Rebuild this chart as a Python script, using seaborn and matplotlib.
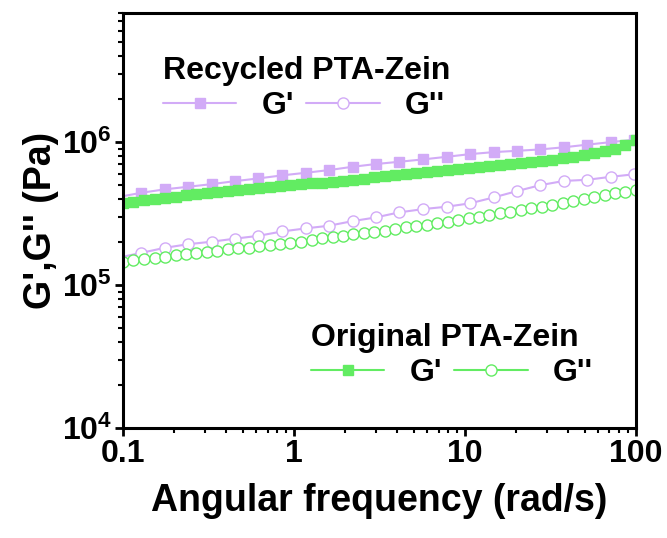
import numpy as np
import pandas as pd
import matplotlib
matplotlib.use("Agg")
import matplotlib.pyplot as plt
from matplotlib.lines import Line2D
import seaborn as sns

# Angular frequency sweeps (rad/s)
freq_recycled = [0.093, 0.128, 0.175, 0.24, 0.33, 0.45, 0.62, 0.85, 1.17, 1.6,
                 2.2, 3.0, 4.1, 5.7, 7.8, 10.7, 14.7, 20.1, 27.6, 37.9,
                 52.0, 71.4, 98.0]
freq_original = [0.100, 0.115, 0.133, 0.153, 0.176, 0.203, 0.233, 0.269, 0.309, 0.356,
                 0.410, 0.472, 0.543, 0.625, 0.720, 0.829, 0.954, 1.10, 1.27, 1.46,
                 1.68, 1.93, 2.22, 2.56, 2.95, 3.39, 3.91, 4.50, 5.18, 5.96,
                 6.87, 7.91, 9.10, 10.5, 12.1, 13.9, 16.0, 18.4, 21.2, 24.4,
                 28.1, 32.4, 37.3, 42.9, 49.4, 56.9, 65.5, 75.4, 86.8, 100.0]

# Recycled PTA-Zein moduli (Pa)
gp_recycled = [4.12e5, 4.42e5, 4.67e5, 4.87e5, 5.08e5, 5.33e5, 5.57e5, 5.85e5, 6.10e5, 6.37e5,
               6.72e5, 7.02e5, 7.28e5, 7.57e5, 7.89e5, 8.24e5, 8.51e5, 8.69e5, 8.89e5, 9.20e5,
               9.60e5, 1.00e6, 1.04e6]
gpp_recycled = [1.55e5, 1.68e5, 1.82e5, 1.93e5, 2.01e5, 2.11e5, 2.21e5, 2.37e5, 2.49e5, 2.60e5,
                2.80e5, 2.97e5, 3.22e5, 3.40e5, 3.53e5, 3.73e5, 4.10e5, 4.54e5, 5.00e5, 5.35e5,
                5.45e5, 5.72e5, 5.96e5]

# Original PTA-Zein moduli (Pa)
gp_original = [3.73e5, 3.82e5, 3.93e5, 4.01e5, 4.08e5, 4.15e5, 4.24e5, 4.31e5, 4.38e5, 4.47e5,
               4.54e5, 4.62e5, 4.69e5, 4.77e5, 4.85e5, 4.90e5, 4.98e5, 5.06e5, 5.14e5, 5.19e5,
               5.28e5, 5.34e5, 5.42e5, 5.53e5, 5.66e5, 5.76e5, 5.85e5, 5.95e5, 6.04e5, 6.14e5,
               6.24e5, 6.34e5, 6.44e5, 6.55e5, 6.66e5, 6.76e5, 6.87e5, 6.99e5, 7.10e5, 7.25e5,
               7.40e5, 7.52e5, 7.70e5, 7.90e5, 8.12e5, 8.36e5, 8.66e5, 9.01e5, 9.57e5, 1.03e6]
gpp_original = [1.455e5, 1.495e5, 1.52e5, 1.55e5, 1.58e5, 1.62e5, 1.65e5, 1.68e5, 1.71e5, 1.74e5,
                1.78e5, 1.81e5, 1.83e5, 1.87e5, 1.90e5, 1.94e5, 1.98e5, 2.01e5, 2.06e5, 2.12e5,
                2.18e5, 2.21e5, 2.27e5, 2.32e5, 2.36e5, 2.40e5, 2.45e5, 2.53e5, 2.59e5, 2.63e5,
                2.70e5, 2.77e5, 2.85e5, 2.93e5, 3.00e5, 3.09e5, 3.17e5, 3.26e5, 3.35e5, 3.44e5,
                3.53e5, 3.63e5, 3.74e5, 3.86e5, 4.01e5, 4.12e5, 4.26e5, 4.39e5, 4.51e5, 4.63e5]

x_ticks = [0.1, 1, 10, 100]
x_ticklabels = ["0.1", "1", "10", "100"]
y_ticks = [1e4, 1e5, 1e6]
y_ticklabels = [r"$\mathbf{10^{4}}$", r"$\mathbf{10^{5}}$", r"$\mathbf{10^{6}}$"]

PURPLE = "#D2ABF7"
GREEN = "#62EC62"

sns.set_theme(style="white")
plt.rcParams["font.family"] = ["Liberation Sans", "DejaVu Sans"]
plt.rcParams["font.weight"] = "bold"
plt.rcParams["text.color"] = "black"
plt.rcParams["axes.labelcolor"] = "black"
plt.rcParams["xtick.color"] = "black"
plt.rcParams["ytick.color"] = "black"
plt.rcParams["mathtext.fontset"] = "custom"
plt.rcParams["mathtext.rm"] = "Liberation Sans:bold"
plt.rcParams["mathtext.bf"] = "Liberation Sans:bold"

fig = plt.figure(figsize=(6.67, 5.38), dpi=100)
ax = fig.add_axes([0.1844, 0.2045, 0.7691, 0.7713])

series = [
    (freq_recycled, gp_recycled, PURPLE, "s", PURPLE, 7, 1.5),
    (freq_recycled, gpp_recycled, PURPLE, "o", "white", 8, 1.5),
    (freq_original, gp_original, GREEN, "s", GREEN, 7, 1.5),
    (freq_original, gpp_original, GREEN, "o", "white", 8, 1.5),
]
for xs, ys, col, mk, face, ms, lw in series:
    df = pd.DataFrame({"w": xs, "G": ys})
    sns.lineplot(data=df, x="w", y="G", ax=ax, color=col, linewidth=lw,
                 marker=mk, markersize=ms, markerfacecolor=face,
                 markeredgecolor=col, markeredgewidth=1.0, clip_on=True)

ax.set_xscale("log")
ax.set_yscale("log")
ax.set_xlim(0.1, 100)
ax.set_ylim(1e4, 8e6)

ax.set_xticks(x_ticks)
ax.set_xticklabels(x_ticklabels)
ax.set_yticks(y_ticks)
ax.set_yticklabels(y_ticklabels)
ax.xaxis.set_minor_locator(matplotlib.ticker.LogLocator(base=10, subs=np.arange(2, 10)))
ax.yaxis.set_minor_locator(matplotlib.ticker.LogLocator(base=10, subs=np.arange(2, 10)))
ax.xaxis.set_minor_formatter(matplotlib.ticker.NullFormatter())
ax.yaxis.set_minor_formatter(matplotlib.ticker.NullFormatter())

ax.tick_params(axis="both", which="major", direction="out", length=6, width=2,
               labelsize=23, color="black", labelcolor="black", pad=2,
               bottom=True, left=True, top=False, right=False)
ax.tick_params(axis="both", which="minor", direction="out", length=3.5, width=1.5,
               color="black", bottom=True, left=True, top=False, right=False)
for lab in ax.get_xticklabels() + ax.get_yticklabels():
    lab.set_fontweight("bold")

for sp in ax.spines.values():
    sp.set_visible(True)
    sp.set_color("black")
    sp.set_linewidth(2.2)

ax.set_xlabel("Angular frequency (rad/s)", fontsize=27, fontweight="bold",
              color="black", labelpad=10)
ax.set_ylabel("G',G'' (Pa)", fontsize=27, fontweight="bold", color="black", labelpad=2)


def make_legend(color, title, anchor):
    handles = [
        Line2D([], [], color=color, lw=1.5, marker="s", markersize=7,
               markerfacecolor=color, markeredgecolor=color),
        Line2D([], [], color=color, lw=1.5, marker="o", markersize=8,
               markerfacecolor="white", markeredgecolor=color, markeredgewidth=1.0),
    ]
    leg = ax.legend(handles, ["G'", "G''"], title=title, ncol=2, frameon=False,
                    loc="upper left", bbox_to_anchor=anchor, bbox_transform=fig.transFigure,
                    fontsize=23, title_fontproperties={"size": 23, "weight": "bold"},
                    handlelength=2.3, handletextpad=0.78, columnspacing=0.38,
                    labelspacing=0.15, borderpad=0, borderaxespad=0,
                    alignment="left", labelcolor="black")
    leg.get_title().set_color("black")
    for t in leg.get_texts():
        t.set_fontweight("bold")
    return leg


leg1 = make_legend(PURPLE, "Recycled PTA-Zein", (163 / 667, 1 - 56 / 538))
ax.add_artist(leg1)
make_legend(GREEN, "Original PTA-Zein", (311 / 667, 1 - 323 / 538))

fig.savefig("out.png", dpi=100)
